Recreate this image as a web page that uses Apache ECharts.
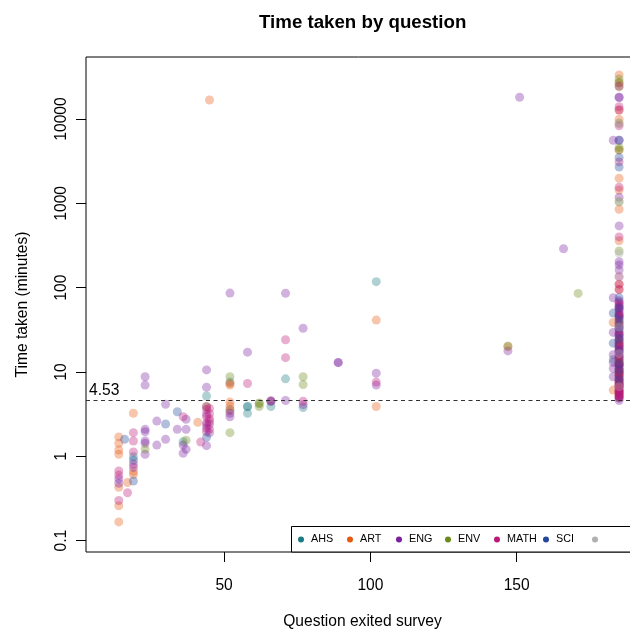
<!DOCTYPE html>
<html>
<head>
<meta charset="utf-8">
<title>Time taken by question</title>
<script src="https://cdn.jsdelivr.net/npm/echarts@6/dist/echarts.min.js"></script>
<style>
  html, body { margin: 0; padding: 0; background: #fff; }
  #chart { width: 630px; height: 630px; }
</style>
</head>
<body>
<div id="chart"></div>
<script>
// Each record: [question at which the respondent left the survey, minutes taken]
const AHS = [
  [19, 0.99], [36, 1.49], [44, 5.2], [52, 7.6], [52, 3.6], [58, 3.88], [58, 3.24], [58, 3.9],
  [66, 3.9], [66, 4.5], [71, 8.3], [77, 3.8], [102, 117.8],
  [185, 46], [185, 27], [185, 21], [185, 15.5], [185, 12], [185, 9.2], [183, 14]
];
const ART = [
  [14, 1.7], [14, 1.43], [14, 1.19], [14, 1.06], [14, 0.43], [14, 0.26], [14, 0.167],
  [17, 0.49], [19, 3.24], [19, 0.66], [19, 0.61], [41, 2.53], [45, 16800],
  [52, 7.0], [52, 7.3], [52, 4.4], [52, 3.95], [52, 3.47], [102, 41.3], [102, 3.9], [147, 20.0],
  [185, 33300], [185, 26900], [185, 12800], [185, 9900], [185, 4300], [185, 1980], [185, 1440],
  [185, 850], [185, 360], [185, 110], [185, 95],
  [185, 48], [185, 30], [185, 20], [185, 14], [185, 11], [185, 9], [185, 8], [185, 7],
  [185, 6.5], [185, 6], [185, 5.5], [185, 5], [185, 10], [185, 7.5],
  [185, 5.2], [185, 5.8], [185, 6.8], [185, 8.5], [185, 9.5], [185, 12.5],
  [183, 38.6], [183, 6.1]
];
const ENG = [
  [14, 0.54], [14, 0.48], [19, 0.74], [23, 8.8], [23, 7.0], [23, 2.09], [23, 1.96], [23, 1.52],
  [23, 1.43], [23, 1.06], [27, 2.62], [27, 1.36], [30, 4.14], [30, 1.59], [34, 2.09],
  [36, 1.36], [36, 1.09], [37, 2.75], [37, 2.09], [37, 1.21],
  [44, 10.6], [44, 6.6], [44, 3.17], [44, 2.5], [44, 2.15], [44, 1.34], [45, 2.4], [45, 1.9],
  [52, 86.3], [52, 3.24], [52, 2.95], [58, 17.2], [66, 4.5], [71, 86], [71, 4.6],
  [77, 33], [77, 4.1], [89, 13.0], [89, 12.9], [102, 9.7], [102, 7.0], [147, 17.8],
  [151, 18100], [166, 289],
  [185, 18100], [185, 18000], [185, 5600], [185, 1180], [185, 540], [185, 203], [185, 186], [185, 162],
  [183, 5600], [183, 76], [183, 29.5], [183, 16], [183, 13], [183, 11], [183, 8.8],
  [185, 60], [185, 55], [185, 50], [185, 45], [185, 40], [185, 35], [185, 30], [185, 26],
  [185, 22], [185, 19], [185, 16], [185, 14], [185, 12], [185, 10], [185, 9], [185, 8],
  [185, 7], [185, 6], [185, 5.2], [185, 4.6], [185, 65], [185, 70],
  [185, 4.9], [185, 5.6], [185, 6.5], [185, 7.5], [185, 11], [185, 13], [185, 15], [185, 17.5],
  [185, 20.5], [185, 24], [185, 28], [185, 33], [185, 38], [185, 47], [185, 57]
];
const ENV = [
  [23, 1.22], [37, 1.55], [44, 3.9], [52, 8.8], [52, 1.91], [62, 4.3], [62, 3.9], [62, 4.2],
  [77, 8.8], [77, 7.1], [147, 20.4], [171, 85.5],
  [185, 29600], [185, 26900], [185, 24000], [185, 8900], [185, 4600], [185, 4300], [185, 1045],
  [185, 272], [185, 38], [185, 23], [185, 13.5], [185, 10], [185, 7.2]
];
const MATH = [
  [14, 0.67], [14, 0.6], [14, 0.30], [17, 0.37], [19, 1.91], [19, 1.52], [19, 1.13], [19, 0.81],
  [36, 2.95], [42, 1.48], [44, 3.88], [44, 3.6], [44, 2.95], [44, 2.35], [44, 1.96],
  [45, 3.7], [45, 3.2], [45, 2.6], [45, 2.1], [45, 2.8], [58, 7.3], [66, 4.55],
  [71, 24.1], [71, 14.8], [77, 4.5], [102, 7.6],
  [185, 24600], [185, 14000], [185, 12800], [185, 8300], [185, 3100], [185, 1550], [185, 400],
  [185, 135], [185, 110], [185, 95], [185, 67],
  [185, 62], [185, 52], [185, 44], [185, 36], [185, 28], [185, 24], [185, 20], [185, 17],
  [185, 15], [185, 13], [185, 11], [185, 9.5], [185, 8.5], [185, 7.5], [185, 6.8], [185, 6.2],
  [185, 5.6], [185, 5], [185, 5.3], [185, 5.9], [185, 7], [185, 10], [185, 12], [185, 18.5], [185, 22]
];
const SCI = [
  [16, 1.59], [19, 0.90], [19, 0.51], [30, 2.42], [34, 3.38], [44, 1.68],
  [185, 5600], [185, 3500], [185, 2700], [185, 76],
  [183, 50], [183, 22],
  [185, 58], [185, 42], [185, 33], [185, 25], [185, 18], [185, 12.5], [185, 10.5], [185, 8.2]
];
const OTHER = [
  [185, 8900], [185, 1045], [185, 255], [185, 135], [185, 34], [185, 16.5], [185, 6.7]
];

const groupNames = ['AHS', 'ART', 'ENG', 'ENV', 'MATH', 'SCI', ' '];
const groupData = [AHS, ART, ENG, ENV, MATH, SCI, OTHER];
const groupColors = ['#1b7a83', '#e55a10', '#7a1fa0', '#6b8a1a', '#bd1879', '#23479b', '#b0b0b0'];

// Reference line: median time taken
const THRESHOLD = 4.53;

const xTicks = [50, 100, 150];
const yTickValues = [0.1, 1, 10, 100, 1000, 10000];
const yTickLabels = ['0.1', '1', '10', '100', '1000', '10000'];

const FONT = '"Liberation Sans", Arial, Helvetica, sans-serif';
const log10 = v => Math.log10(v);
const yTickLogs = yTickValues.map(log10);

const series = groupNames.map((name, i) => {
  const s = {
    name: name,
    type: 'scatter',
    symbol: 'circle',
    symbolSize: 9,
    itemStyle: { color: groupColors[i], opacity: 0.35 },
    emphasis: { disabled: true },
    data: groupData[i].map(d => [d[0], log10(d[1])])
  };
  if (i === 0) {
    s.markLine = {
      silent: true,
      symbol: 'none',
      z: 10,
      lineStyle: { color: '#333', width: 1, type: [4, 3.5], opacity: 1 },
      label: {
        show: true,
        position: 'insideStartTop',
        formatter: String(THRESHOLD),
        fontFamily: FONT,
        fontSize: 15.6,
        color: '#000',
        distance: [3, 2]
      },
      data: [{ yAxis: log10(THRESHOLD) }]
    };
  }
  return s;
});

// Legend laid out as equal-width columns, one legend entry per group,
// inside a framed box anchored to the bottom of the plot.
const LEGEND_LEFT = 291;
const LEGEND_COL = 49;
const legends = groupNames.map((name, i) => ({
  data: [name],
  left: LEGEND_LEFT + 7 + LEGEND_COL * i,
  top: 534,
  padding: 0,
  orient: 'horizontal',
  icon: 'circle',
  itemWidth: 10,
  itemHeight: 6,
  selectedMode: false,
  z: 5,
  itemStyle: { opacity: 1 },
  textStyle: { fontFamily: FONT, fontSize: 10.8, color: '#000' }
}));

const chart = echarts.init(document.getElementById('chart'), null, { renderer: 'canvas' });
chart.setOption({
  animation: false,
  backgroundColor: '#fff',
  textStyle: { fontFamily: FONT },
  title: {
    text: 'Time taken by question',
    left: 254,
    top: 8,
    textStyle: { fontFamily: FONT, fontSize: 18.7, fontWeight: 'bold', color: '#000' }
  },
  legend: legends,
  graphic: [{
    type: 'rect',
    z: 4,
    silent: true,
    shape: { x: LEGEND_LEFT + 0.5, y: 526.5, width: 360, height: 25.5 },
    style: { fill: '#fff', stroke: '#000', lineWidth: 1 }
  }],
  grid: {
    left: 86,
    top: 57,
    width: 553,
    height: 495,
    show: true,
    borderColor: '#000',
    borderWidth: 1,
    containLabel: false,
    outerBoundsMode: 'none'
  },
  xAxis: {
    type: 'value',
    min: 2.8,
    max: 191.8,
    name: 'Question exited survey',
    nameLocation: 'middle',
    nameGap: 62,
    nameTextStyle: { fontFamily: FONT, fontSize: 15.6, color: '#000' },
    axisLine: { show: false, onZero: false },
    axisTick: { show: true, length: 10, customValues: xTicks, lineStyle: { color: '#000' } },
    axisLabel: { customValues: xTicks, margin: 26, fontFamily: FONT, fontSize: 15.6, color: '#000' },
    splitLine: { show: false }
  },
  yAxis: {
    type: 'value',
    min: -1.134,
    max: 4.735,
    name: 'Time taken (minutes)',
    nameLocation: 'middle',
    nameGap: 55,
    nameRotate: 90,
    nameTextStyle: { fontFamily: FONT, fontSize: 15.6, color: '#000' },
    axisLine: { show: false, onZero: false },
    axisTick: { show: true, length: 10, customValues: yTickLogs, lineStyle: { color: '#000' } },
    axisLabel: {
      customValues: yTickLogs,
      rotate: 90,
      margin: 16,
      fontFamily: FONT,
      fontSize: 15.6,
      color: '#000',
      formatter: v => yTickLabels[Math.round(v) + 1]
    },
    splitLine: { show: false }
  },
  series: series
});
</script>
</body>
</html>
